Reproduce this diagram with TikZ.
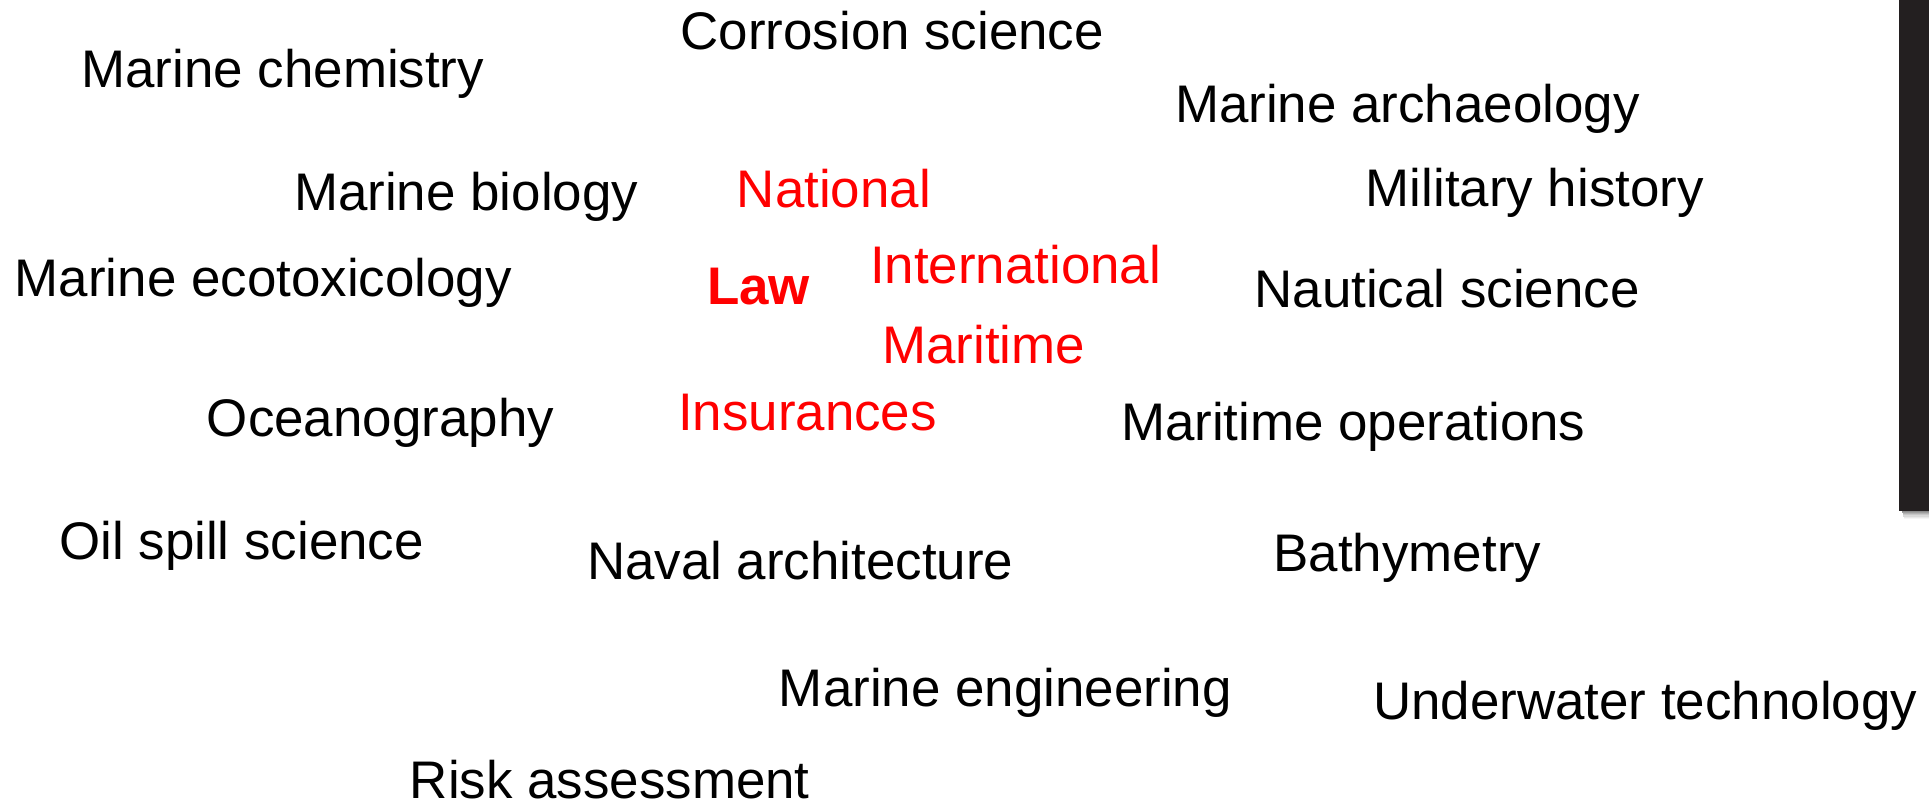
\documentclass[tikz,border=0pt]{standalone}
\usepackage{fontspec}
\setmainfont{Liberation Sans}
\definecolor{barcol}{HTML}{231F20}
\begin{document}
\begin{tikzpicture}[x=1pt,y=-1pt,
  term/.style={anchor=base west,inner sep=0pt,xshift=-2pt,font=\fontsize{43}{50}\selectfont,text=black},
  lawterm/.style={term,text=red},
  lawbold/.style={term,text=red,font=\fontsize{43}{50}\selectfont\bfseries}]
\useasboundingbox (0,0) rectangle (1568,654);
\fill[white] (0,0) rectangle (1568,654);
% shadow under bar
\foreach \i/\c in {0/45,1/38,2/30,3/22,4/15,5/9,6/4}{
  \fill[black!\c] (1546+\i*0.3,415+\i) rectangle (1568,416+\i);
}
\fill[barcol] (1543.6,0) rectangle (1568,415);
\node[term] (chem) at (68,71) {Marine chemistry};
\node[term] (corr) at (555,40.6) {Corrosion science};
\node[term] (arch) at (957,99.7) {Marine archaeology};
\node[term] (bio) at (240.9,170.7) {Marine biology};
\node[lawterm] (nat) at (600.8,168.8) {National};
\node[term] (mil) at (1112,167.5) {Military history};
\node[term] (eco) at (13.9,241.2) {Marine ecotoxicology};
\node[lawbold] (law) at (576.5,247.9) {Law};
\node[lawterm] (intl) at (709,230.3) {International};
\node[term] (naut) at (1021.5,249.8) {Nautical science};
\node[lawterm] (mar) at (719,295.3) {Maritime};
\node[term] (ocean) at (170,354.4) {Oceanography};
\node[lawterm] (ins) at (553,350.1) {Insurances};
\node[term] (ops) at (913,357.7) {Maritime operations};
\node[term] (oil) at (50,454.7) {Oil spill science};
\node[term] (naval) at (479,470.9) {Naval architecture};
\node[term] (bath) at (1037,464.7) {Bathymetry};
\node[term] (eng) at (635,574.4) {Marine engineering};
\node[term] (uw) at (1118,584.7) {Underwater technology};
\node[term] (risk) at (335,649) {Risk assessment};
\end{tikzpicture}
\end{document}
